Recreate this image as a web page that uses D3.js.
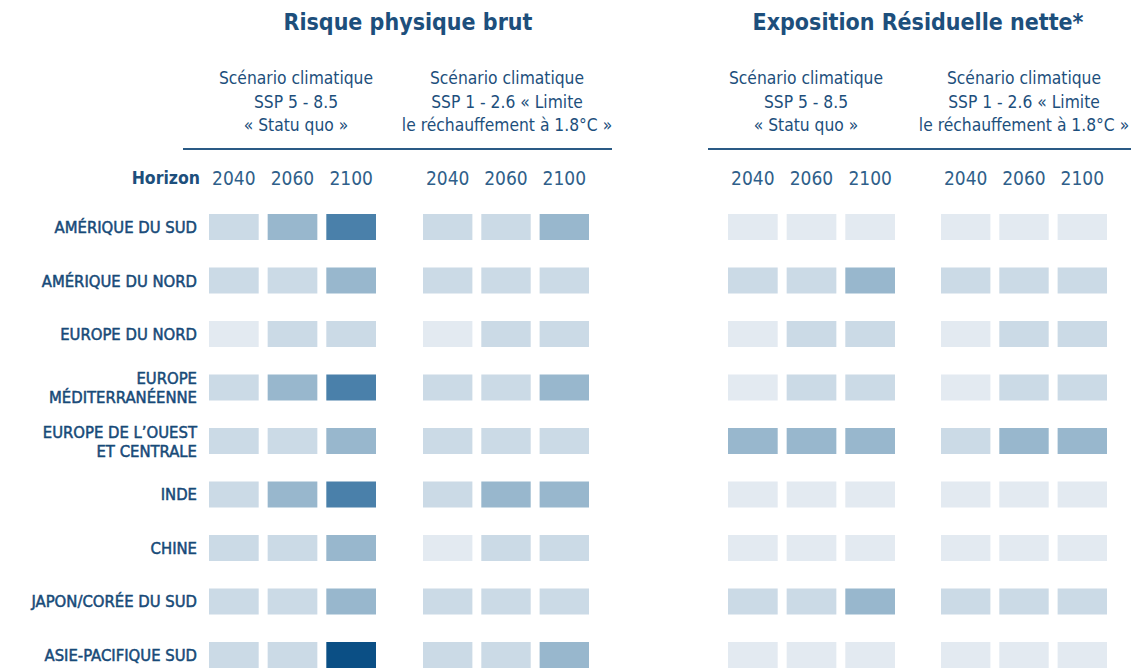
<!DOCTYPE html>
<html>
<head>
<meta charset="utf-8">
<script src="https://cdn.jsdelivr.net/npm/d3@7"></script>
<style>
  body { margin: 0; background: #fff; }
  svg text { font-family: "DejaVu Sans Condensed", "Liberation Sans Narrow", sans-serif; fill: #1d4f7c; }
</style>
</head>
<body>
<svg id="chart" width="1136" height="672"></svg>
<script>
var regions = ["AMÉRIQUE DU SUD", "AMÉRIQUE DU NORD", "EUROPE DU NORD", "EUROPE MÉDITERRANÉENNE",
  "EUROPE DE L’OUEST ET CENTRALE", "INDE", "CHINE", "JAPON/CORÉE DU SUD", "ASIE-PACIFIQUE SUD"];
var regionLines = [["AMÉRIQUE DU SUD"], ["AMÉRIQUE DU NORD"], ["EUROPE DU NORD"], ["EUROPE", "MÉDITERRANÉENNE"],
  ["EUROPE DE L’OUEST", "ET CENTRALE"], ["INDE"], ["CHINE"], ["JAPON/CORÉE DU SUD"], ["ASIE-PACIFIQUE SUD"]];
var horizons = ["2040", "2060", "2100"];
var titles = ["Risque physique brut", "Exposition Résiduelle nette*"];
var scenarioLines = [
  ["Scénario climatique", "SSP 5 - 8.5", "« Statu quo »"],
  ["Scénario climatique", "SSP 1 - 2.6 « Limite", "le réchauffement à 1.8°C »"]
];

// risk level 1 (low) .. 5 (high), one row per region, 3 horizons
var brutSsp585 = [[2,3,4],[2,2,3],[1,2,2],[2,3,4],[2,2,3],[2,3,4],[2,2,3],[2,2,3],[2,2,5]];
var brutSsp126 = [[2,2,3],[2,2,2],[1,2,2],[2,2,3],[2,2,2],[2,3,3],[1,2,2],[2,2,2],[2,2,3]];
var netSsp585  = [[1,1,1],[2,2,3],[1,2,2],[1,2,2],[3,3,3],[1,1,1],[1,1,1],[2,2,3],[1,1,1]];
var netSsp126  = [[1,1,1],[2,2,2],[1,2,2],[1,2,2],[2,3,3],[1,1,1],[1,1,1],[2,2,2],[1,1,1]];

var levels = [1, 2, 3, 4, 5];
var levelColors = ["#e3eaf1", "#cbdae6", "#98b7cd", "#4a80aa", "#0b4f85"];

var svg = d3.select("#chart");
var color = d3.scaleOrdinal().domain(levels).range(levelColors);

var groups = [
  {data: brutSsp585, range: [209, 376], scen: 0, head: 296},
  {data: brutSsp126, range: [423, 589], scen: 1, head: 507},
  {data: netSsp585, range: [728, 895], scen: 0, head: 806},
  {data: netSsp126, range: [941, 1107], scen: 1, head: 1024}
];

var y = d3.scaleBand().domain(regions).range([214, 668]).paddingInner(0.514);

// titles
svg.selectAll("text.title")
  .data(titles)
  .enter().append("text")
  .attr("class", "title")
  .attr("x", function(d, i){ return i === 0 ? 408 : 918; })
  .attr("y", 30)
  .attr("text-anchor", "middle")
  .style("font-size", "23px")
  .style("font-weight", "bold")
  .text(function(d){ return d; });

// header rules
[[183, 612], [708, 1131]].forEach(function(r){
  svg.append("line")
    .attr("x1", r[0]).attr("x2", r[1])
    .attr("y1", 149).attr("y2", 149)
    .attr("stroke", "#2a5a85")
    .attr("stroke-width", 2);
});

svg.append("text")
  .attr("x", 200)
  .attr("y", 184)
  .attr("text-anchor", "end")
  .style("font-size", "17.5px")
  .style("font-weight", "bold")
  .text("Horizon");

groups.forEach(function(g){
  var x = d3.scaleBand().domain(horizons).range(g.range).paddingInner(0.153);

  var head = svg.append("text")
    .attr("text-anchor", "middle")
    .style("font-size", "17.3px");
  scenarioLines[g.scen].forEach(function(t, k){
    head.append("tspan")
      .attr("x", g.head)
      .attr("y", 84 + k * 23.5)
      .text(t);
  });

  svg.selectAll(null)
    .data(horizons)
    .enter().append("text")
    .attr("x", function(d){ return x(d) + x.bandwidth() / 2; })
    .attr("y", 185)
    .attr("text-anchor", "middle")
    .style("font-size", "19px")
    .style("fill", "#2f5f8a")
    .text(function(d){ return d; });

  var cells = [];
  g.data.forEach(function(row, ri){
    row.forEach(function(v, ci){
      cells.push({region: regions[ri], horizon: horizons[ci], value: v});
    });
  });

  svg.append("g").selectAll("rect")
    .data(cells)
    .enter().append("rect")
    .attr("x", function(d){ return x(d.horizon); })
    .attr("y", function(d){ return y(d.region); })
    .attr("width", x.bandwidth())
    .attr("height", y.bandwidth())
    .attr("fill", function(d){ return color(d.value); });
});

// row labels
var labels = svg.append("g").selectAll("text")
  .data(regions)
  .enter().append("text")
  .attr("text-anchor", "end")
  .style("font-size", "16.5px")
  .style("fill", "#174a78")
  .style("stroke", "#174a78")
  .style("stroke-width", "0.5px");

labels.each(function(d, i){
  var lines = regionLines[i];
  var mid = y(d) + y.bandwidth() / 2;
  var t = d3.select(this);
  lines.forEach(function(l, k){
    t.append("tspan")
      .attr("x", 197)
      .attr("y", mid + 6 + (k - (lines.length - 1) / 2) * 19)
      .text(l);
  });
});
</script>
</body>
</html>
